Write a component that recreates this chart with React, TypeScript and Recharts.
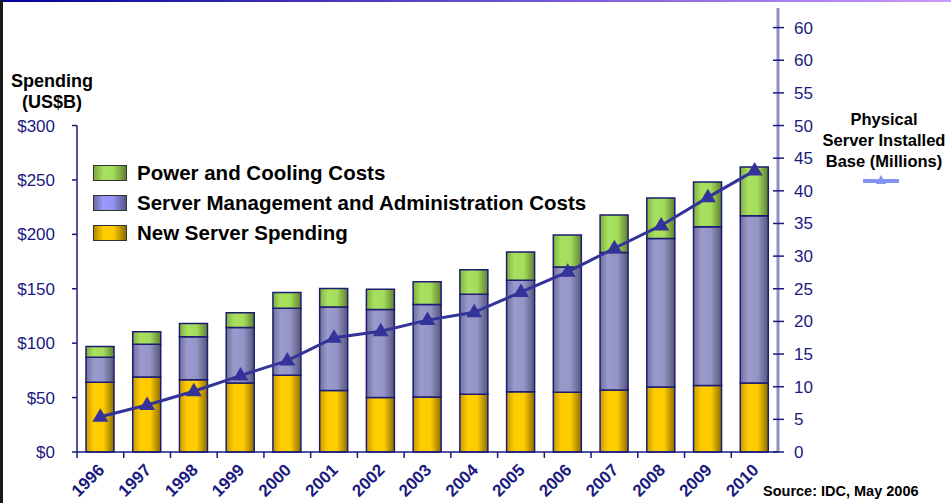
import React from "react";
import { ComposedChart, Bar, Line, XAxis, YAxis, ReferenceLine } from "recharts";

const years = ["1996", "1997", "1998", "1999", "2000", "2001", "2002", "2003", "2004", "2005", "2006", "2007", "2008", "2009", "2010"];
const newServer = [64, 69, 66.5, 63.4, 70.5, 56.6, 50, 50.5, 53, 55.4, 55, 57, 59.7, 61, 63.4];
const management = [23, 30, 39.5, 51, 61.5, 76.6, 81, 85, 92, 102.4, 115, 126.4, 136.6, 146, 153.8];
const power = [10, 11.5, 12, 13.5, 14.5, 17, 18.5, 21, 22.5, 26, 29.4, 34.4, 37, 41, 44.7];
const installedBase = [5.4, 7.2, 9.3, 11.7, 14, 17.5, 18.5, 20.2, 21.4, 24.5, 27.6, 31.2, 34.7, 39, 43.1];

const spendingTicks = [0, 50, 100, 150, 200, 250, 300];
const baseTicks = [0, 5, 10, 15, 20, 25, 30, 35, 40, 45, 50, 55, 60, 65];
const baseTickLabels = ["0", "5", "10", "15", "20", "25", "30", "35", "40", "45", "50", "55", "60", "60"];

const data = years.map((year, i) => ({
  year,
  newServer: newServer[i],
  management: management[i],
  power: power[i],
  base: installedBase[i],
}));

const NAVY = "#1a1a80";
const FONT = "'Liberation Sans', Arial, sans-serif";

const legendItems = [
  { label: "Power and Cooling Costs", grad: "linear-gradient(to right, #7ea83c, #a8e060 30%, #a4dc5c 60%, #5f8030)" },
  { label: "Server Management and Administration Costs", grad: "linear-gradient(to right, #6c6ca0, #9a9aff 30%, #9494f0 60%, #55558a)" },
  { label: "New Server Spending", grad: "linear-gradient(to right, #b08a00, #ffcc00 30%, #ffcc00 60%, #8c6d00)" },
];

function YearTick(props: any) {
  const { x, y, payload } = props;
  const half = payload && payload.offset ? payload.offset : 700 / 15 / 2;
  const tx = x + 5;
  const ty = y + 19;
  return (
    <g>
      <line x1={x - half} y1={y} x2={x - half} y2={y + 6} stroke={NAVY} strokeWidth={1.5} />
      <text
        x={tx}
        y={ty}
        transform={`rotate(-45 ${tx} ${ty})`}
        textAnchor="end"
        fill={NAVY}
        fontSize={17}
        fontWeight="bold"
        fontFamily={FONT}
      >
        {payload.value}
      </text>
    </g>
  );
}

function BaseTick(props: any) {
  const { x, y, payload, index } = props;
  return (
    <g>
      <line x1={x - 21} y1={y} x2={x - 16} y2={y} stroke={NAVY} strokeWidth={1.5} />
      <text x={x} y={y} dy={6} textAnchor="start" fill={NAVY} fontSize={17} fontFamily={FONT}>
        {baseTickLabels[index] ?? payload.value}
      </text>
    </g>
  );
}

function Triangle(props: any) {
  const { cx, cy } = props;
  if (cx == null || cy == null) return null;
  return <path d={`M${cx},${cy - 8.5} L${cx - 8},${cy + 5} L${cx + 8},${cy + 5} Z`} fill="#333399" />;
}

export default function App() {
  return (
    <div style={{ position: "absolute", left: 0, top: 0, width: 951, height: 503, background: "#fff", fontFamily: FONT, overflow: "hidden" }}>
      <div style={{ position: "absolute", left: 0, top: 0, width: 951, height: 2, background: "linear-gradient(to right, #000099, #cc99ff)" }} />
      <div style={{ position: "absolute", left: 0, top: 0, width: 3, height: 503, background: "#1a1a1a" }} />

      <ComposedChart width={951} height={503} data={data} margin={{ top: 8, right: 0, bottom: 0, left: 0 }}>
        <defs>
          <linearGradient id="gYellow" x1="0" y1="0" x2="1" y2="0">
            <stop offset="0%" stopColor="#c89b00" />
            <stop offset="28%" stopColor="#ffcc00" />
            <stop offset="62%" stopColor="#ffcc00" />
            <stop offset="100%" stopColor="#8c6d00" />
          </linearGradient>
          <linearGradient id="gPurple" x1="0" y1="0" x2="1" y2="0">
            <stop offset="0%" stopColor="#70709c" />
            <stop offset="28%" stopColor="#9a9acc" />
            <stop offset="62%" stopColor="#9494c6" />
            <stop offset="100%" stopColor="#55557a" />
          </linearGradient>
          <linearGradient id="gGreen" x1="0" y1="0" x2="1" y2="0">
            <stop offset="0%" stopColor="#82b040" />
            <stop offset="28%" stopColor="#a8e060" />
            <stop offset="62%" stopColor="#a4dc5c" />
            <stop offset="100%" stopColor="#5f8030" />
          </linearGradient>
        </defs>
        <XAxis
          dataKey="year"
          height={51}
          interval={0}
          tickSize={0}
          tickMargin={0}
          tickLine={false}
          axisLine={{ stroke: NAVY, strokeWidth: 1.5 }}
          tick={<YearTick />}
        />
        <XAxis xAxisId="n" type="number" domain={[0, years.length]} hide />
        <YAxis
          yAxisId="left"
          width={77}
          domain={[0, 408]}
          ticks={spendingTicks}
          tickFormatter={(v: number) => `$${v}`}
          axisLine={false}
          tickLine={{ stroke: NAVY, strokeWidth: 1.5 }}
          tickSize={5}
          tickMargin={17}
          tick={{ fill: NAVY, fontSize: 17, fontFamily: FONT }}
        />
        <YAxis
          yAxisId="right"
          orientation="right"
          width={173}
          domain={[0, 68]}
          ticks={baseTicks}
          interval={0}
          axisLine={{ stroke: "#8f8fc8", strokeWidth: 3 }}
          tickLine={{ stroke: NAVY, strokeWidth: 1.5 }}
          tickSize={6}
          tickMargin={10}
          tick={<BaseTick />}
        />
        <ReferenceLine
          xAxisId="n"
          yAxisId="left"
          segment={[{ x: 0, y: 0 }, { x: 0, y: 300 }]}
          stroke={NAVY}
          strokeWidth={1.5}
        />
        <Bar yAxisId="left" dataKey="newServer" stackId="s" barSize={28} fill="url(#gYellow)" stroke="#1c1c70" strokeWidth={1.5} isAnimationActive={false} />
        <Bar yAxisId="left" dataKey="management" stackId="s" barSize={28} fill="url(#gPurple)" stroke="#1c1c70" strokeWidth={1.5} isAnimationActive={false} />
        <Bar yAxisId="left" dataKey="power" stackId="s" barSize={28} fill="url(#gGreen)" stroke="#1c1c70" strokeWidth={1.5} isAnimationActive={false} />
        <Line yAxisId="right" dataKey="base" stroke="#333399" strokeWidth={3} dot={<Triangle />} activeDot={false} isAnimationActive={false} />
      </ComposedChart>

      <div style={{ position: "absolute", left: 0, top: 71, width: 104, textAlign: "center", fontWeight: "bold", fontSize: 18, lineHeight: "21px", color: "#000" }}>
        Spending
        <br />
        (US$B)
      </div>

      <div style={{ position: "absolute", left: 93, top: 158 }}>
        {legendItems.map((it) => (
          <div key={it.label} style={{ display: "flex", alignItems: "center", height: 30 }}>
            <div style={{ width: 32, height: 14, background: it.grad, border: "1.5px solid #333", marginRight: 10 }} />
            <span style={{ fontWeight: "bold", fontSize: 20.5, color: "#000", whiteSpace: "nowrap" }}>{it.label}</span>
          </div>
        ))}
      </div>

      <div style={{ position: "absolute", left: 814, top: 109, width: 140, textAlign: "center", fontWeight: "bold", fontSize: 16.5, lineHeight: "21px", color: "#000" }}>
        Physical
        <br />
        Server Installed
        <br />
        Base (Millions)
      </div>
      <svg style={{ position: "absolute", left: 860, top: 172 }} width={42} height={16}>
        <line x1={3} y1={9} x2={39} y2={9} stroke="#8494f4" strokeWidth={4} />
        <path d="M21,3 L16,12 L26,12 Z" fill="#8494f4" />
      </svg>

      <div style={{ position: "absolute", left: 763, top: 483, fontWeight: "bold", fontSize: 14.5, color: "#000", whiteSpace: "nowrap" }}>
        Source: IDC, May 2006
      </div>
    </div>
  );
}
